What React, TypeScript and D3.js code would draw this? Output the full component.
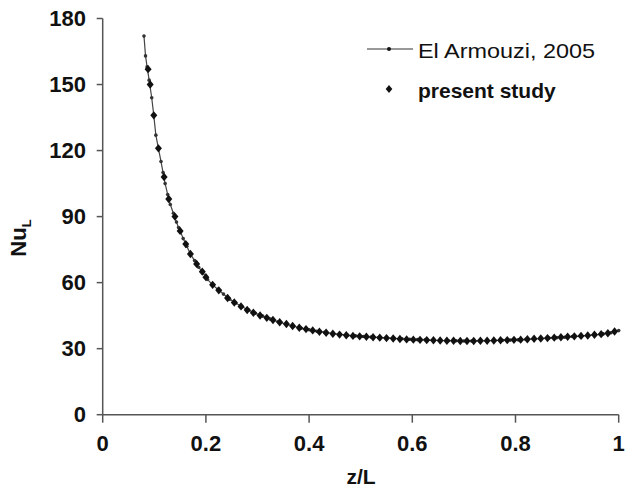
import React from "react";
import * as d3 from "d3";

const refZ = [0.08, 0.083, 0.086, 0.09, 0.095, 0.099, 0.103, 0.108, 0.113, 0.117, 0.121, 0.126, 0.131, 0.137, 0.143, 0.147, 0.151, 0.156, 0.163, 0.17, 0.178, 0.186, 0.194, 0.203, 0.213, 0.223, 0.234, 0.246, 0.258, 0.27, 0.283, 0.296, 0.31, 0.325, 0.34, 0.355, 0.37, 0.385, 0.4, 0.415, 0.43, 0.445, 0.46, 0.475, 0.49, 0.505, 0.52, 0.535, 0.55, 0.565, 0.58, 0.595, 0.61, 0.625, 0.64, 0.655, 0.67, 0.685, 0.7, 0.715, 0.73, 0.745, 0.76, 0.775, 0.79, 0.805, 0.82, 0.835, 0.85, 0.865, 0.88, 0.895, 0.91, 0.925, 0.94, 0.955, 0.97, 0.985, 1.0];
const refNu = [172, 163, 158, 152, 144, 136, 127, 121, 115, 110, 105, 100, 95.5, 91.5, 87.5, 85, 83, 80, 76.5, 73, 70, 67, 64.5, 61.5, 59, 57, 54.8, 52.5, 50.7, 49, 47.5, 46.1, 44.8, 43.4, 42.2, 41.2, 40.2, 39.3, 38.6, 37.9, 37.4, 36.9, 36.5, 36.1, 35.8, 35.5, 35.3, 35.1, 34.9, 34.7, 34.5, 34.3, 34.1, 34.0, 33.8, 33.7, 33.6, 33.6, 33.5, 33.5, 33.5, 33.6, 33.7, 33.8, 33.9, 34.0, 34.2, 34.4, 34.6, 34.8, 35.0, 35.2, 35.5, 35.7, 36.0, 36.3, 36.7, 37.2, 38.2];

const presZ = [0.088, 0.092, 0.099, 0.108, 0.119, 0.128, 0.14, 0.15, 0.161, 0.17, 0.182, 0.193, 0.2, 0.213, 0.225, 0.242, 0.255, 0.268, 0.28, 0.292, 0.305, 0.318, 0.33, 0.343, 0.356, 0.368, 0.381, 0.394, 0.407, 0.42, 0.433, 0.446, 0.459, 0.472, 0.485, 0.498, 0.511, 0.524, 0.537, 0.55, 0.563, 0.576, 0.589, 0.602, 0.615, 0.628, 0.641, 0.654, 0.667, 0.68, 0.693, 0.706, 0.719, 0.732, 0.745, 0.758, 0.771, 0.784, 0.797, 0.81, 0.823, 0.836, 0.849, 0.862, 0.875, 0.888, 0.901, 0.914, 0.927, 0.94, 0.953, 0.966, 0.979, 0.992];
const presNu = [157, 150, 136, 121, 108, 98, 90, 83.5, 77.5, 73, 68.5, 65, 62.5, 59, 56.5, 53, 51, 49.2, 47.6, 46.3, 45.1, 44, 43, 42, 41.2, 40.3, 39.5, 38.9, 38.3, 37.7, 37.2, 36.8, 36.4, 36.1, 35.8, 35.6, 35.4, 35.2, 35, 34.8, 34.6, 34.4, 34.2, 34.1, 34, 33.9, 33.8, 33.7, 33.6, 33.6, 33.5, 33.5, 33.5, 33.6, 33.6, 33.7, 33.8, 33.9, 34, 34.1, 34.3, 34.5, 34.6, 34.8, 35, 35.2, 35.4, 35.6, 35.8, 36, 36.3, 36.6, 37, 37.8];

const xTicks = [0, 0.2, 0.4, 0.6, 0.8, 1];
const xTickLabels = ["0", "0.2", "0.4", "0.6", "0.8", "1"];
const yTicks = [0, 30, 60, 90, 120, 150, 180];
const legendLabels = ["El Armouzi, 2005", "present study"];

export default function App() {
  const W = 625, H = 488;
  const x = d3.scaleLinear().domain([0, 1]).range([102.7, 618.7]);
  const y = d3.scaleLinear().domain([0, 180]).range([414.7, 18.5]);
  const axisColor = "#555";
  const font = "Liberation Sans, Arial, sans-serif";
  const refPts = refZ.map((z, i) => [x(z), y(refNu[i])] as [number, number]);
  const line = d3.line();
  const diamond = (cx: number, cy: number, r: number) =>
    `M${cx},${cy - r * 1.2}L${cx + r},${cy}L${cx},${cy + r * 1.2}L${cx - r},${cy}Z`;
  return (
    <svg width={W} height={H} style={{ position: "absolute", left: 0, top: 0, background: "#fff" }}>
      {/* axes */}
      <line x1={x(0)} x2={x(1)} y1={y(0)} y2={y(0)} stroke={axisColor} strokeWidth={1.5} />
      <line x1={x(0)} x2={x(0)} y1={y(0)} y2={y(180)} stroke={axisColor} strokeWidth={1.5} />
      {xTicks.map((t, i) => (
        <g key={"xt" + i}>
          <line x1={x(t)} x2={x(t)} y1={y(0)} y2={y(0) + 8} stroke={axisColor} strokeWidth={1.5} />
          <text x={x(t)} y={443} textAnchor="middle" dominantBaseline="central" fontFamily={font} fontWeight="bold" fontSize={22} fill="#111">
            {xTickLabels[i]}
          </text>
        </g>
      ))}
      {yTicks.map((t, i) => (
        <g key={"yt" + i}>
          <line x1={x(0) - 6} x2={x(0)} y1={y(t)} y2={y(t)} stroke={axisColor} strokeWidth={1.5} />
          <text x={86} y={y(t)} textAnchor="end" dominantBaseline="central" fontFamily={font} fontWeight="bold" fontSize={22} fill="#111">
            {t}
          </text>
        </g>
      ))}
      <text x={361} y={476} textAnchor="middle" dominantBaseline="central" fontFamily={font} fontWeight="bold" fontSize={21} fill="#111">
        z/L
      </text>
      <text transform="translate(26,238) rotate(-90)" textAnchor="middle" fontFamily={font} fontWeight="bold" fontSize={22} fill="#111">
        Nu<tspan fontSize={13} dy={5}>L</tspan>
      </text>
      {/* reference line */}
      <path d={line(refPts) || ""} fill="none" stroke="#444" strokeWidth={1.2} />
      {refPts.map((p, i) => (
        <circle key={"rp" + i} cx={p[0]} cy={p[1]} r={1.8} fill="#333" />
      ))}
      {/* present study */}
      {presZ.map((z, i) => (
        <path key={"ps" + i} d={diamond(x(z), y(presNu[i]), 3.5)} fill="#111" />
      ))}
      {/* legend */}
      <line x1={367} x2={413} y1={49} y2={49} stroke="#333" strokeWidth={1.2} />
      <circle cx={389} cy={49} r={2} fill="#111" />
      <text x={418} y={50} dominantBaseline="central" fontFamily={font} fontSize={21} fill="#111" textLength={177} lengthAdjust="spacingAndGlyphs">
        {legendLabels[0]}
      </text>
      <path d={diamond(389, 89, 3.3)} fill="#111" />
      <text x={418} y={90} dominantBaseline="central" fontFamily={font} fontWeight="bold" fontSize={21} fill="#111">
        {legendLabels[1]}
      </text>
    </svg>
  );
}
